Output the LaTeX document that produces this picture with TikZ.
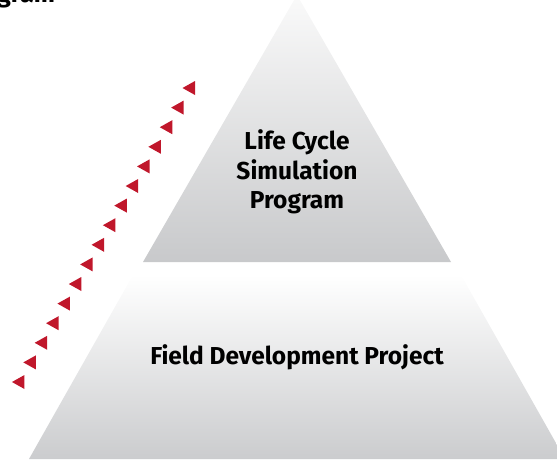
\documentclass[tikz,border=0pt]{standalone}
\usepackage{fontspec}
\setmainfont{Fira Sans}
\definecolor{arrowred}{HTML}{C0172B}
\definecolor{pyrtop}{HTML}{FAFAFA}
\definecolor{pyrgray}{HTML}{C8C9CB}
\definecolor{basegray}{HTML}{CBCCCE}
\begin{document}
\begin{tikzpicture}[x=1pt,y=-1pt,
  label text/.style={font=\bfseries\fontsize{24.5}{29.5}\selectfont, align=center, text=black, inner sep=0pt},
  marker/.style={fill=arrowred, draw=none}]
\useasboundingbox (0,0) rectangle (557,459);
% bottom tier
\shade[top color=white, bottom color=basegray] (133,275) -- (461,275) -- (565,459) -- (29,459) -- cycle;
% top tier
\shade[top color=pyrtop, bottom color=pyrgray] (297,-5) -- (451,262) -- (143,262) -- cycle;
% texts
\node[label text] (top) at (297,172) {Life Cycle\\Simulation\\Program};
\node[label text, anchor=base] (base) at (297,364) {Field Development Project};
\node[font=\bfseries\fontsize{25}{25}\selectfont, anchor=base west, inner sep=0pt] (title) at (-3,2) {gram};
% red markers
\foreach \i in {0,...,15}{
  \pgfmathsetmacro{\cx}{189-11.37*\i}
  \pgfmathsetmacro{\cy}{88+19.6*\i}
  \fill[marker] (\cx-6.5,\cy) -- (\cx+6,\cy-7) -- (\cx+6,\cy+7) -- cycle;
}
\end{tikzpicture}
\end{document}
